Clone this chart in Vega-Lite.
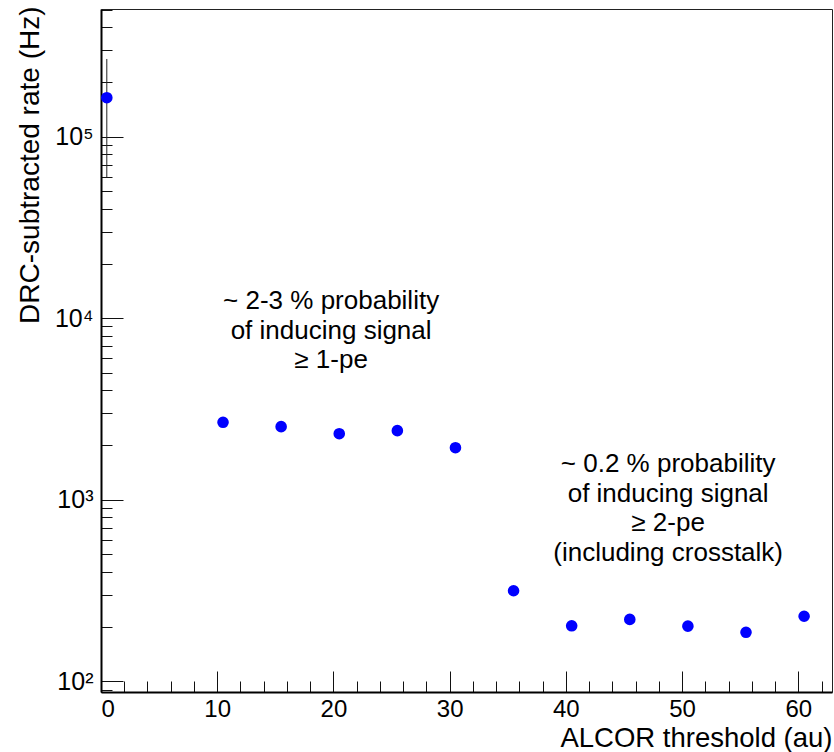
{
  "$schema": "https://vega.github.io/schema/vega-lite/v6.json",
  "width": 731,
  "height": 683,
  "autosize": "none",
  "padding": {"left": 101, "top": 9, "right": 2, "bottom": 60},
  "background": "white",
  "config": {
    "font": "Liberation Sans",
    "view": {"stroke": "#222222", "strokeWidth": 1},
    "axis": {"grid": false, "tickColor": "#111111", "tickWidth": 1, "labelColor": "black", "titleColor": "black", "labelFont": "Liberation Sans", "titleFont": "Liberation Sans", "titleFontWeight": "normal"}
  },
  "datasets": {
    "points": [
      {"threshold": 0.5, "rate": 164000, "lo": 59700, "hi": 268000},
      {"threshold": 10.5, "rate": 2670},
      {"threshold": 15.5, "rate": 2525},
      {"threshold": 20.5, "rate": 2310},
      {"threshold": 25.5, "rate": 2400},
      {"threshold": 30.5, "rate": 1934},
      {"threshold": 35.5, "rate": 315},
      {"threshold": 40.5, "rate": 202},
      {"threshold": 45.5, "rate": 219},
      {"threshold": 50.5, "rate": 201},
      {"threshold": 55.5, "rate": 186},
      {"threshold": 60.5, "rate": 228}
    ],
    "notes": [
      {"x": 19.8, "y": 11200, "label": "~ 2-3 % probability\nof inducing signal\n≥ 1-pe"},
      {"x": 48.8, "y": 1420, "label": "~ 0.2 % probability\nof inducing signal\n≥ 2-pe\n(including crosstalk)"}
    ]
  },
  "layer": [
    {
      "data": {"name": "points"},
      "mark": {"type": "point", "opacity": 0},
      "encoding": {
        "x": {
          "field": "threshold", "type": "quantitative",
          "scale": {"domain": [0, 62.9], "nice": false, "zero": false},
          "axis": {
            "orient": "bottom", "title": null, "labels": false, "domain": false,
            "values": [2, 4, 6, 8, 12, 14, 16, 18, 22, 24, 26, 28, 32, 34, 36, 38, 42, 44, 46, 48, 52, 54, 56, 58, 62],
            "tickSize": -11
          }
        },
        "y": {
          "field": "rate", "type": "quantitative",
          "scale": {"type": "log", "domain": [87.2, 505200], "nice": false},
          "axis": {
            "orient": "left", "title": null, "labels": false, "domain": false,
            "values": [90, 200, 300, 400, 500, 600, 700, 800, 900, 2000, 3000, 4000, 5000, 6000, 7000, 8000, 9000, 20000, 30000, 40000, 50000, 60000, 70000, 80000, 90000, 200000, 300000, 400000, 500000],
            "tickSize": -11
          }
        }
      }
    },
    {
      "data": {"name": "points"},
      "mark": {"type": "rule", "color": "#222222", "strokeWidth": 1},
      "encoding": {
        "x": {"field": "threshold", "type": "quantitative", "axis": null},
        "y": {"field": "lo", "type": "quantitative", "axis": null},
        "y2": {"field": "hi"}
      }
    },
    {
      "data": {"name": "points"},
      "mark": {"type": "point", "shape": "circle", "filled": true, "color": "#0000ff", "opacity": 1, "size": 135},
      "encoding": {
        "x": {
          "field": "threshold", "type": "quantitative",
          "axis": {
            "orient": "bottom", "values": [0, 10, 20, 30, 40, 50, 60],
            "tickSize": -21, "labelPadding": 26, "labelFontSize": 24,
            "domain": true, "domainColor": "black", "domainWidth": 2,
            "title": "ALCOR threshold (au)", "titleFontSize": 27.5,
            "titleAnchor": "end", "titleAlign": "right", "titleBaseline": "alphabetic",
            "titleX": 731, "titleY": 54
          }
        },
        "y": {
          "field": "rate", "type": "quantitative",
          "axis": {
            "orient": "left", "values": [100, 1000, 10000, 100000],
            "labelExpr": "'10' + ['⁰','¹','²','³','⁴','⁵','⁶'][round(log(datum.value)/LN10)]",
            "tickSize": -22, "labelPadding": 30, "labelFontSize": 25,
            "domain": true, "domainColor": "black", "domainWidth": 2,
            "title": "DRC-subtracted rate (Hz)", "titleFontSize": 28,
            "titleAngle": -90, "titleAnchor": "end", "titleAlign": "right", "titleBaseline": "alphabetic",
            "titleX": -63, "titleY": -3
          }
        }
      }
    },
    {
      "data": {"name": "notes"},
      "mark": {"type": "text", "align": "center", "baseline": "alphabetic", "fontSize": 26, "lineHeight": 29.5, "lineBreak": "\n", "color": "black", "font": "Liberation Sans"},
      "encoding": {
        "x": {"field": "x", "type": "quantitative", "axis": null},
        "y": {"field": "y", "type": "quantitative", "axis": null},
        "text": {"field": "label"}
      }
    }
  ],
  "resolve": {"axis": {"x": "independent", "y": "independent"}}
}
